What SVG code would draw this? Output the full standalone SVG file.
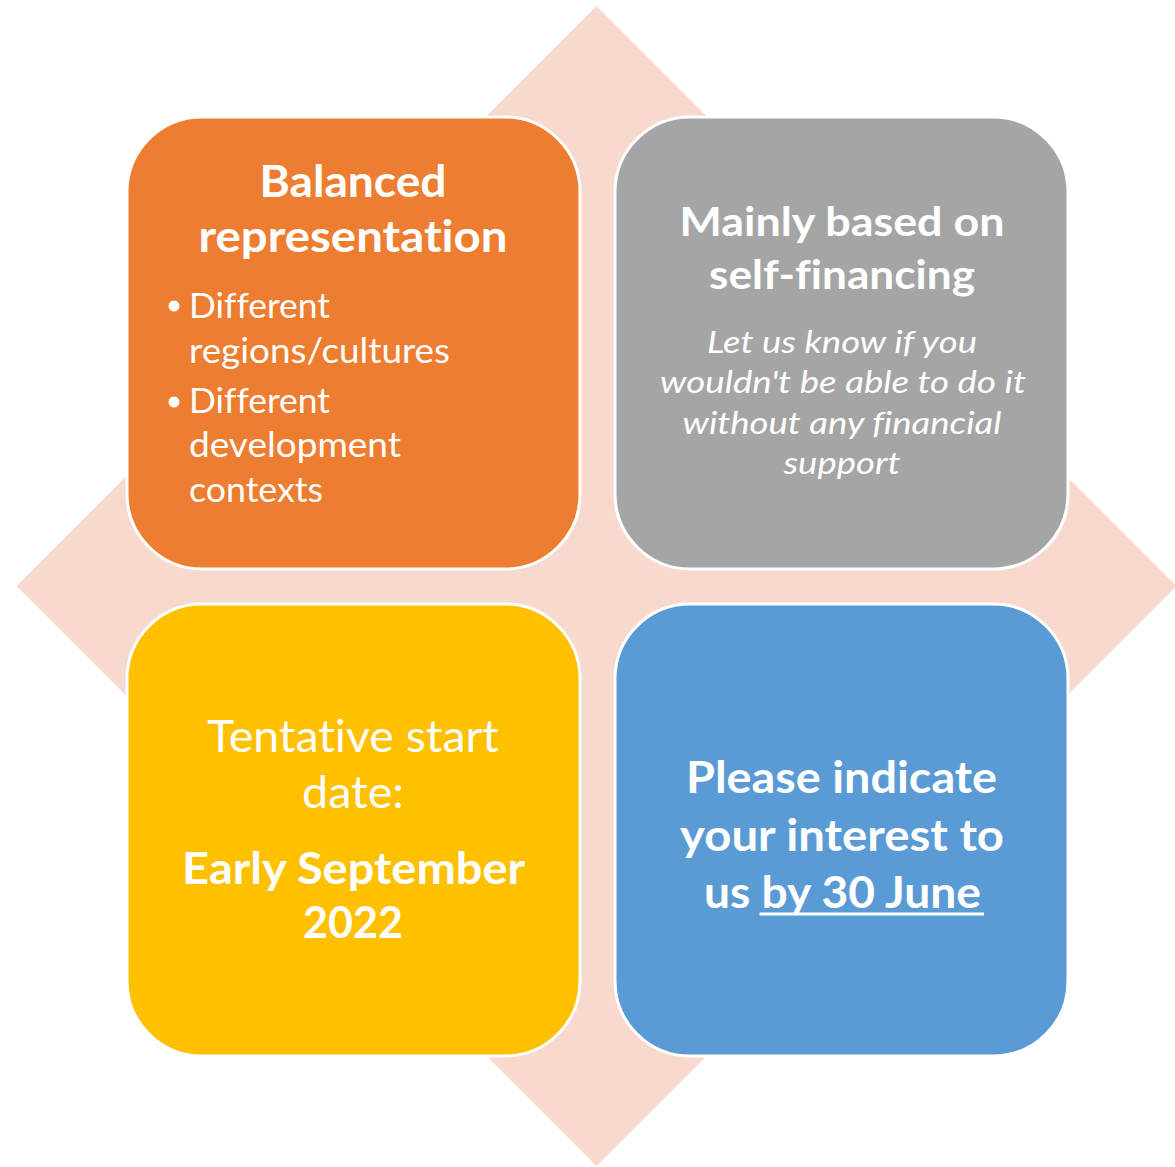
<svg xmlns="http://www.w3.org/2000/svg" width="1175" height="1167" viewBox="0 0 1175 1167">
<style>
.box{stroke:#FFFFFF;stroke-width:3}
.t{fill:#FFFFFF;font-family:Lato,"Open Sans","Liberation Sans",sans-serif;font-variant-ligatures:none}
.b{font-weight:bold}
.c{text-anchor:middle}
.i{font-style:italic}
</style>
<rect width="1175" height="1167" fill="#FFFFFF"/>
<g id="background">
<polygon points="596.5,6 1176.5,586 596.5,1166 16.5,586" fill="#F8D9CE"/>
</g>
<g id="connectors"></g>
<g id="node-balanced">
<rect class="box" x="127" y="117" width="453" height="452" rx="75" fill="#ED7D31"/>
<text class="t b c" x="353" y="197" font-size="44" textLength="187" lengthAdjust="spacingAndGlyphs">Balanced</text>
<text class="t b c" x="353" y="252" font-size="44" textLength="309" lengthAdjust="spacingAndGlyphs">representation</text>
<circle cx="174" cy="306" r="5.5" fill="#FFFFFF"/>
<text class="t" x="189" y="318" font-size="34" textLength="141" lengthAdjust="spacingAndGlyphs">Different</text>
<text class="t" x="189" y="363" font-size="34" textLength="261" lengthAdjust="spacingAndGlyphs">regions/cultures</text>
<circle cx="174" cy="402" r="5.5" fill="#FFFFFF"/>
<text class="t" x="189" y="413" font-size="34" textLength="141" lengthAdjust="spacingAndGlyphs">Different</text>
<text class="t" x="189" y="457" font-size="34" textLength="212" lengthAdjust="spacingAndGlyphs">development</text>
<text class="t" x="189" y="502" font-size="34" textLength="134" lengthAdjust="spacingAndGlyphs">contexts</text>
</g>
<g id="node-self-financing">
<rect class="box" x="615" y="117" width="453" height="452" rx="75" fill="#A5A5A5"/>
<text class="t b c" x="842" y="236" font-size="41" textLength="325" lengthAdjust="spacingAndGlyphs">Mainly based on</text>
<text class="t b c" x="842" y="289" font-size="41" textLength="266" lengthAdjust="spacingAndGlyphs">self-financing</text>
<text class="t i c" x="842" y="353" font-size="31" textLength="270" lengthAdjust="spacingAndGlyphs">Let us know if you</text>
<text class="t i c" x="843" y="393" font-size="31" textLength="366" lengthAdjust="spacingAndGlyphs">wouldn't be able to do it</text>
<text class="t i c" x="842" y="434" font-size="31" textLength="319" lengthAdjust="spacingAndGlyphs">without any financial</text>
<text class="t i c" x="842" y="474" font-size="31" textLength="117" lengthAdjust="spacingAndGlyphs">support</text>
</g>
<g id="node-start-date">
<rect class="box" x="127" y="604" width="453" height="452" rx="75" fill="#FFC000"/>
<text class="t c" x="353" y="752" font-size="44" textLength="292" lengthAdjust="spacingAndGlyphs">Tentative start</text>
<text class="t c" x="353" y="808" font-size="44" textLength="102" lengthAdjust="spacingAndGlyphs">date:</text>
<text class="t b c" x="353.5" y="884" font-size="43" textLength="343" lengthAdjust="spacingAndGlyphs">Early September</text>
<text class="t b c" x="353" y="938" font-size="43" textLength="100" lengthAdjust="spacingAndGlyphs">2022</text>
</g>
<g id="node-interest">
<rect class="box" x="615" y="604" width="453" height="452" rx="75" fill="#5B9BD5"/>
<text class="t b c" x="841.5" y="793" font-size="44" textLength="311" lengthAdjust="spacingAndGlyphs">Please indicate</text>
<text class="t b c" x="842" y="851" font-size="44" textLength="324" lengthAdjust="spacingAndGlyphs">your interest to</text>
<text class="t b" x="704" y="908" font-size="44" textLength="277" lengthAdjust="spacingAndGlyphs">us by 30 June</text>
<rect x="759.5" y="912.5" width="224.5" height="3" fill="#FFFFFF"/>
</g>
</svg>
